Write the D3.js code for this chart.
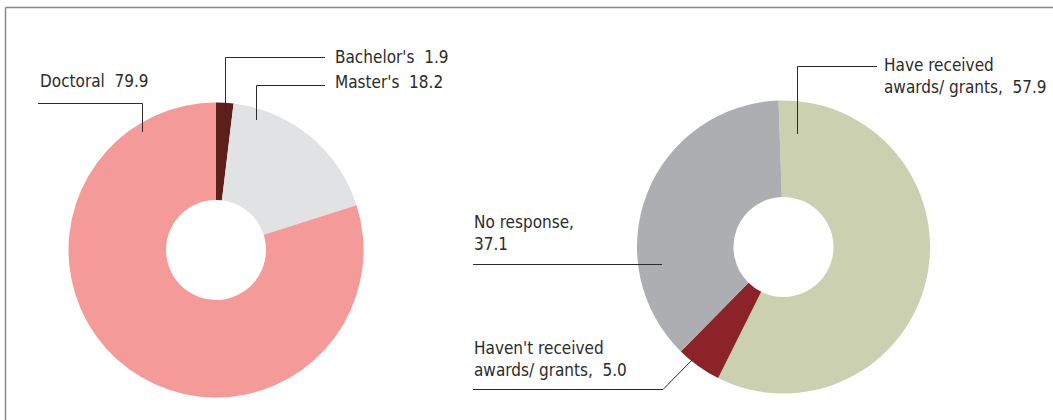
<!DOCTYPE html>
<html>
<head>
<meta charset="utf-8">
<script src="https://cdn.jsdelivr.net/npm/d3@7"></script>
<style>
  body { margin: 0; background: #fff; }
  svg text { font-family: "Liberation Sans Narrow", "DejaVu Sans Condensed", "Roboto", sans-serif; font-size: 17px; fill: #2b2b2b; }
</style>
</head>
<body>
<svg id="chart" width="1053" height="420"></svg>
<script>
// degree held
var degreeCats = ["Bachelor's", "Master's", "Doctoral"];
var degreeVals = [1.9, 18.2, 79.9];
var degreeColors = ["#5c1f1a", "#e1e2e4", "#f49a98"];

// awards / grants
var awardCats = ["Have received awards/ grants", "Haven't received awards/ grants", "No response"];
var awardVals = [57.9, 5.0, 37.1];
var awardColors = ["#cbd1b0", "#8b2329", "#adaeb2"];

var svg = d3.select("#chart");

// frame: top and left rules only
svg.append("line").attr("x1", 5.5).attr("y1", 7.5).attr("x2", 1053).attr("y2", 7.5)
    .attr("stroke", "#8a8a8a").attr("stroke-width", 1.5);
svg.append("line").attr("x1", 5.5).attr("y1", 7.5).attr("x2", 5.5).attr("y2", 420)
    .attr("stroke", "#8a8a8a").attr("stroke-width", 1.5);

function drawDonut(cx, cy, rOuter, rInner, start, cats, vals, colors) {
    var data = cats.map(function(c, i) { return { c: c, v: vals[i], col: colors[i] }; });
    var pie = d3.pie().sort(null).value(function(d) { return d.v; })
        .startAngle(start).endAngle(start + 2 * Math.PI);
    var arc = d3.arc().innerRadius(rInner).outerRadius(rOuter);
    var g = svg.append("g").attr("transform", "translate(" + cx + "," + cy + ")");
    g.selectAll("path").data(pie(data)).enter().append("path")
        .attr("d", arc)
        .attr("fill", function(d) { return d.data.col; });
    return g;
}

drawDonut(216, 250, 147.5, 50, 0, degreeCats, degreeVals, degreeColors);
drawDonut(783.5, 247, 146.5, 50, -0.034, awardCats, awardVals, awardColors);

// leader lines (polyline points) and label positions
var leaders = [
    [[38, 103.5], [142.5, 103.5], [142.5, 132]],
    [[325, 57.5], [225.5, 57.5], [225.5, 112]],
    [[325, 85.5], [256.5, 85.5], [256.5, 120]],
    [[877, 66.5], [797.5, 66.5], [797.5, 134]],
    [[473, 264.5], [662, 264.5]],
    [[473, 389.5], [663, 389.5], [694, 358]]
];
svg.selectAll("polyline.leader").data(leaders).enter().append("polyline")
    .attr("class", "leader")
    .attr("points", function(d) { return d.map(function(p) { return p.join(","); }).join(" "); })
    .attr("fill", "none")
    .attr("stroke", "#2b2b2b")
    .attr("stroke-width", 1);

var labels = [
    { x: 40, y: 87, lines: [degreeCats[2] + "  " + degreeVals[2].toFixed(1)] },
    { x: 335, y: 63, lines: [degreeCats[0] + "  " + degreeVals[0].toFixed(1)] },
    { x: 335, y: 88, lines: [degreeCats[1] + "  " + degreeVals[1].toFixed(1)] },
    { x: 884, y: 71, lines: ["Have received", "awards/ grants,  " + awardVals[0].toFixed(1)] },
    { x: 474, y: 228, lines: ["No response,", awardVals[2].toFixed(1)] },
    { x: 474, y: 354, lines: ["Haven't received", "awards/ grants,  " + awardVals[1].toFixed(1)] }
];
var t = svg.selectAll("text.lbl").data(labels).enter().append("text")
    .attr("class", "lbl")
    .attr("x", function(d) { return d.x; })
    .attr("y", function(d) { return d.y; })
    .attr("xml:space", "preserve");
t.selectAll("tspan").data(function(d) { return d.lines.map(function(l) { return { l: l, x: d.x }; }); })
    .enter().append("tspan")
    .attr("x", function(d) { return d.x; })
    .attr("dy", function(d, i) { return i === 0 ? 0 : 22; })
    .text(function(d) { return d.l; });
</script>
</body>
</html>
